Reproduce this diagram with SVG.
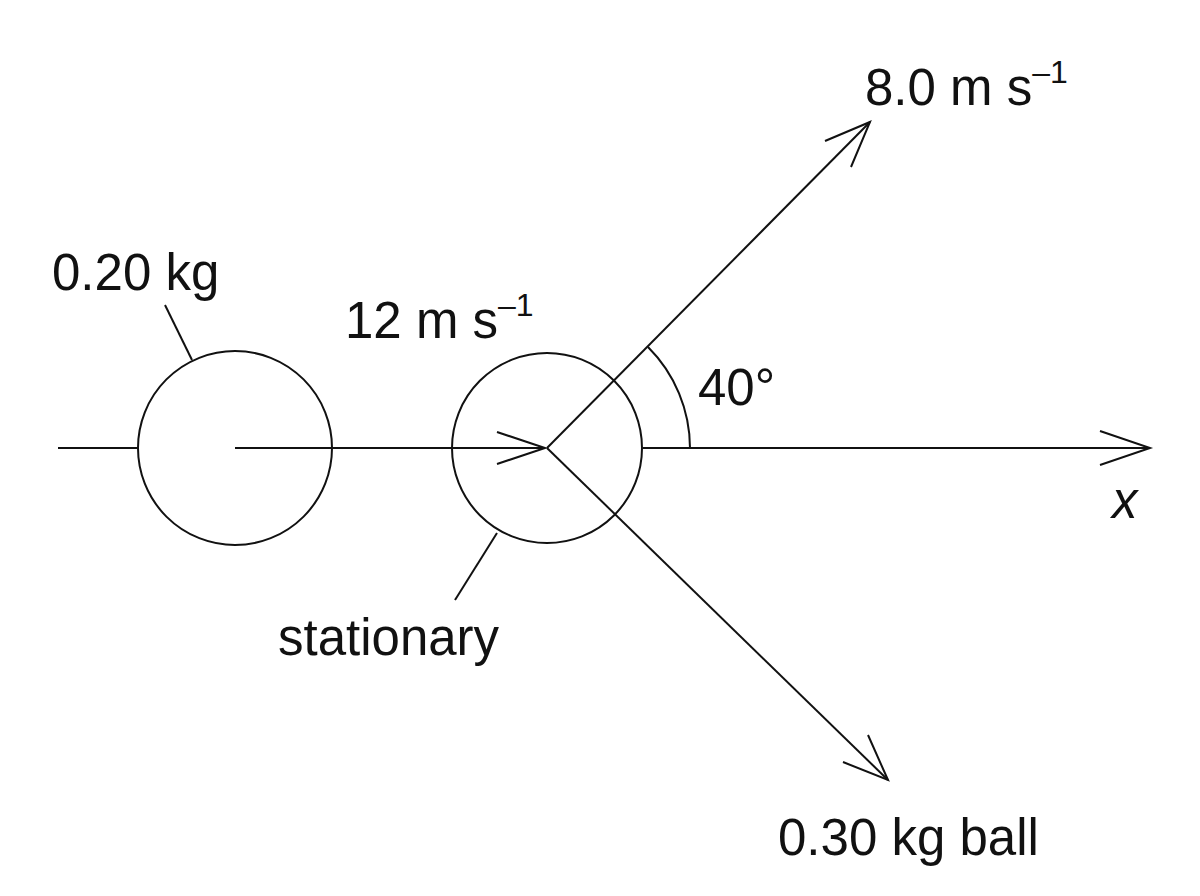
<svg xmlns="http://www.w3.org/2000/svg" width="1200" height="896" viewBox="0 0 1200 896">
<style>
.l{fill:none;stroke:#111;stroke-width:2}
text{font-family:"Liberation Sans",Arial,sans-serif;font-size:51px;fill:#111}
.s{font-size:32px}
</style>
<rect width="1200" height="896" fill="#fff"/>
<g id="ball1"><circle class="l" cx="235" cy="448" r="97"/></g>
<g id="ball2"><circle class="l" cx="547" cy="448" r="95"/></g>
<g id="connectors">
<line class="l" x1="58" y1="448" x2="138" y2="448"/>
<line class="l" x1="235" y1="448" x2="545" y2="448"/>
<polyline class="l" points="497,432 545,448 497,464"/>
<line class="l" x1="643" y1="448" x2="1150" y2="448"/>
<polyline class="l" points="1100,431 1150,448 1100,465"/>
<line class="l" x1="547" y1="448" x2="870" y2="122"/>
<polyline class="l" points="825,141 870,122 851,167"/>
<line class="l" x1="547" y1="448" x2="888" y2="780"/>
<polyline class="l" points="868,735 888,780 843,762"/>
<path class="l" d="M690,448 A143,143 0 0 0 648,347"/>
<line class="l" x1="165" y1="305" x2="192" y2="360"/>
<line class="l" x1="455" y1="600" x2="497" y2="533"/>
</g>
<text x="865" y="105">8.0 m s<tspan class="s" dy="-22">–1</tspan></text>
<text x="52" y="290">0.20 kg</text>
<text x="345" y="338">12 m s<tspan class="s" dy="-22">–1</tspan></text>
<text x="698" y="405">40°</text>
<text x="1112" y="518" font-style="italic">x</text>
<text x="278" y="655">stationary</text>
<text x="778" y="855">0.30 kg ball</text>
</svg>
